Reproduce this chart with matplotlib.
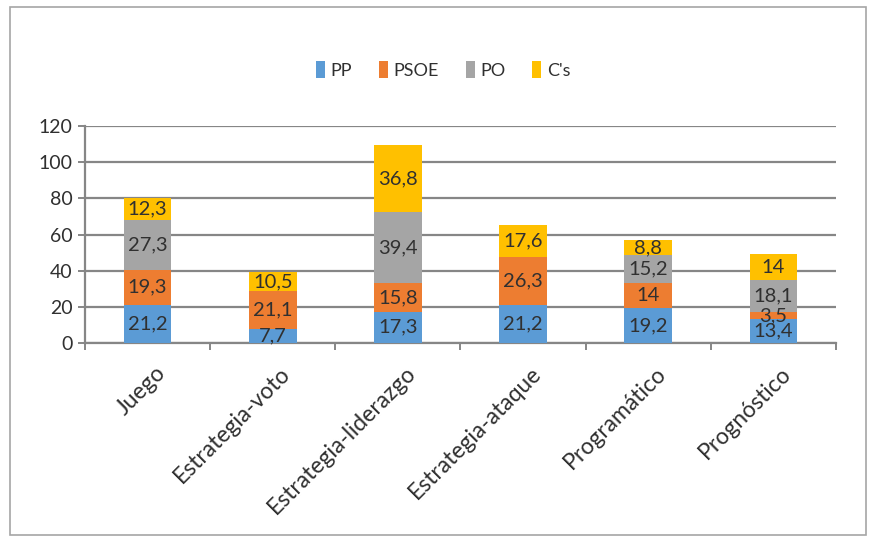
import matplotlib
matplotlib.use("Agg")
import matplotlib.pyplot as plt
import matplotlib.transforms as mtransforms
import numpy as np
from matplotlib.patches import Rectangle

plt.rcParams['font.family'] = ['Lato', 'DejaVu Sans']

categories = ["Juego", "Estrategia-voto", "Estrategia-liderazgo",
              "Estrategia-ataque", "Programático", "Prognóstico"]
series_names = ["PP", "PSOE", "PO", "C's"]
pp = [21.2, 7.7, 17.3, 21.2, 19.2, 13.4]
psoe = [19.3, 21.1, 15.8, 26.3, 14, 3.5]
po = [27.3, 0, 39.4, 0, 15.2, 18.1]
cs = [12.3, 10.5, 36.8, 17.6, 8.8, 14]
colors = ["#5B9BD5", "#ED7D31", "#A5A5A5", "#FFC000"]
yticks = [0, 20, 40, 60, 80, 100, 120]

W, H = 873, 542
TXT = "#303030"
fig = plt.figure(figsize=(W / 100, H / 100), dpi=100)

# outer chart frame
fig.patches.append(Rectangle((10 / W, 7 / H), 856 / W, 528 / H,
                             transform=fig.transFigure, fill=False,
                             edgecolor="#A6A6A6", linewidth=1.2))

ax = fig.add_axes([85 / W, (H - 343) / H, 751 / W, 217 / H])
x = np.arange(len(categories))
bottom = np.zeros(len(categories))
for name, vals, col in zip(series_names, [pp, psoe, po, cs], colors):
    vals = np.array(vals, dtype=float)
    bars = ax.bar(x, vals, width=0.38, bottom=bottom, color=col,
                  label=name, zorder=3)
    for b, v, b0 in zip(bars, vals, bottom):
        if v <= 0:
            continue
        txt = f"{v:g}".replace(".", ",")
        ax.text(b.get_x() + b.get_width() / 2, b0 + v / 2, txt,
                ha="center", va="center", fontsize=14.5, color=TXT,
                zorder=4)
    bottom += vals

ax.set_xlim(-0.5, len(categories) - 0.5)
ax.set_ylim(0, 120)
ax.set_yticks(yticks)
ax.set_yticklabels([str(t) for t in yticks], fontsize=14, color=TXT)
ax.yaxis.grid(True, color="#868686", linewidth=1.6, zorder=0)
ax.set_axisbelow(True)

ax.set_xticks(np.arange(len(categories) + 1) - 0.5)
ax.set_xticklabels([])
ax.set_xticks(x, minor=True)
ax.set_xticklabels(categories, minor=True, rotation=45, ha="right",
                   va="top", rotation_mode="anchor", fontsize=16.5,
                   color=TXT)
ax.tick_params(axis="x", which="minor", length=0, pad=14)
ax.tick_params(axis="x", which="major", length=5, width=1.4, color="#868686")
ax.tick_params(axis="y", length=5, width=1.4, color="#868686", pad=4)

# nudge the rotated category labels slightly to the right
shift = mtransforms.ScaledTranslation(7 / 100, 0, fig.dpi_scale_trans)
for lbl in ax.get_xticklabels(minor=True):
    lbl.set_transform(lbl.get_transform() + shift)

for s in ["top", "right"]:
    ax.spines[s].set_visible(False)
for s in ["left", "bottom"]:
    ax.spines[s].set_color("#868686")
    ax.spines[s].set_linewidth(1.6)

fig.legend(loc="center", bbox_to_anchor=(443 / W, (H - 70) / H), ncol=4,
           frameon=False, fontsize=13, handlelength=0.5, handleheight=1.1,
           handletextpad=0.3, columnspacing=1.5, labelcolor=TXT)

fig.savefig("out.png", dpi=100)
